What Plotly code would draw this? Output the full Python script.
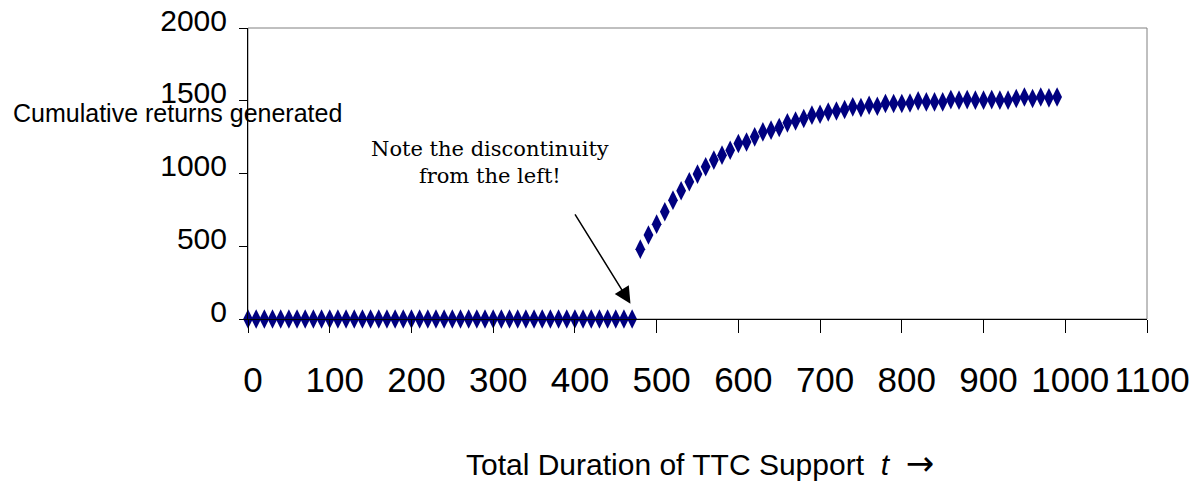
import plotly.graph_objects as go

# Left segment (before the discontinuity)
x_left = [0, 10, 20, 30, 40, 50, 60, 70, 80, 90, 100, 110, 120, 130, 140, 150,
          160, 170, 180, 190, 200, 210, 220, 230, 240, 250, 260, 270, 280, 290,
          300, 310, 320, 330, 340, 350, 360, 370, 380, 390, 400, 410, 420, 430,
          440, 450, 460, 470]
y_left = [0, 0, 0, 0, 0, 0, 0, 0, 0, 0, 0, 0, 0, 0, 0, 0,
          0, 0, 0, 0, 0, 0, 0, 0, 0, 0, 0, 0, 0, 0,
          0, 0, 0, 0, 0, 0, 0, 0, 0, 0, 0, 0, 0, 0,
          0, 0, 0, 0]

# Right segment (after the discontinuity)
x_right = [480, 490, 500, 510, 520, 530, 540, 550, 560, 570, 580, 590, 600,
           610, 620, 630, 640, 650, 660, 670, 680, 690, 700, 710, 720, 730,
           740, 750, 760, 770, 780, 790, 800, 810, 820, 830, 840, 850, 860,
           870, 880, 890, 900, 910, 920, 930, 940, 950, 960, 970, 980, 990]
y_right = [480, 577, 652, 737, 817, 881, 943, 996, 1046, 1092, 1126, 1160, 1206,
           1217, 1252, 1286, 1298, 1316, 1348, 1361, 1378, 1401, 1407, 1423, 1430, 1440,
           1458, 1453, 1469, 1462, 1481, 1481, 1481, 1485, 1499, 1492, 1492, 1492, 1508,
           1504, 1508, 1504, 1504, 1508, 1504, 1504, 1515, 1526, 1515, 1526, 1520, 1526]

x_ticks = [0, 100, 200, 300, 400, 500, 600, 700, 800, 900, 1000, 1100]
y_ticks = [0, 500, 1000, 1500, 2000]

NAVY = "#000080"
SANS = "Arial, Liberation Sans, sans-serif"

fig = go.Figure()
marker = dict(symbol="diamond-tall", size=14, color=NAVY, line=dict(width=0))
fig.add_trace(go.Scatter(x=x_left, y=y_left, mode="markers", marker=marker,
                         cliponaxis=False, showlegend=False))
fig.add_trace(go.Scatter(x=x_right, y=y_right, mode="markers", marker=marker,
                         cliponaxis=False, showlegend=False))

fig.update_layout(
    width=1197, height=489,
    margin=dict(l=248, r=50, t=28, b=170, autoexpand=False),
    paper_bgcolor="white", plot_bgcolor="white",
    font=dict(family=SANS, color="black"),
    xaxis=dict(range=[0, 1100], tickvals=x_ticks, ticktext=[str(v) for v in x_ticks],
               showgrid=False, zeroline=False, showline=True, linecolor="black",
               linewidth=1, ticks="outside", ticklen=13, tickcolor="black",
               tickfont=dict(size=35, family=SANS), ticklabelstandoff=17,
               ticklabelshift=5, automargin=False),
    yaxis=dict(range=[0, 2000], tickvals=y_ticks, ticktext=[str(v) for v in y_ticks],
               showgrid=False, zeroline=False, showline=True, linecolor="black",
               linewidth=1, ticks="outside", ticklen=8, tickcolor="black",
               tickfont=dict(size=30, family=SANS), ticklabelstandoff=6,
               ticklabelshift=-8, automargin=False),
    shapes=[dict(type="rect", xref="paper", yref="paper", x0=0, x1=1, y0=0, y1=1,
                 line=dict(color="#808080", width=1), layer="below")],
    annotations=[
        dict(text="Cumulative returns generated", xref="paper", yref="paper",
             x=-0.2636, y=0.708, xanchor="left", yanchor="middle", showarrow=False,
             font=dict(size=25, family=SANS, color="black")),
        dict(text=("Total Duration of TTC Support  <i>t</i>  "
                   "<span style=\"font-family:DejaVu Sans;font-size:34px\">\u2192</span>"),
             xref="paper", yref="paper",
             x=(700 - 248) / 899, y=-(463 - 319) / 291, xanchor="center", yanchor="middle",
             showarrow=False, font=dict(size=30, family=SANS, color="black")),
        dict(text="Note the discontinuity<br>from the left!", xref="paper", yref="paper",
             x=(490 - 248) / 899, y=(319 - 162) / 291, xanchor="center", yanchor="middle",
             showarrow=False, align="center",
             font=dict(size=21, family="DejaVu Serif, serif", color="black")),
        dict(text="", x=468, y=105, xref="x", yref="y", ax=399, ay=730,
             axref="x", ayref="y", showarrow=True, arrowhead=2, arrowsize=2.2,
             arrowwidth=1.5, arrowcolor="black"),
    ],
)

fig.write_html("out.html")
